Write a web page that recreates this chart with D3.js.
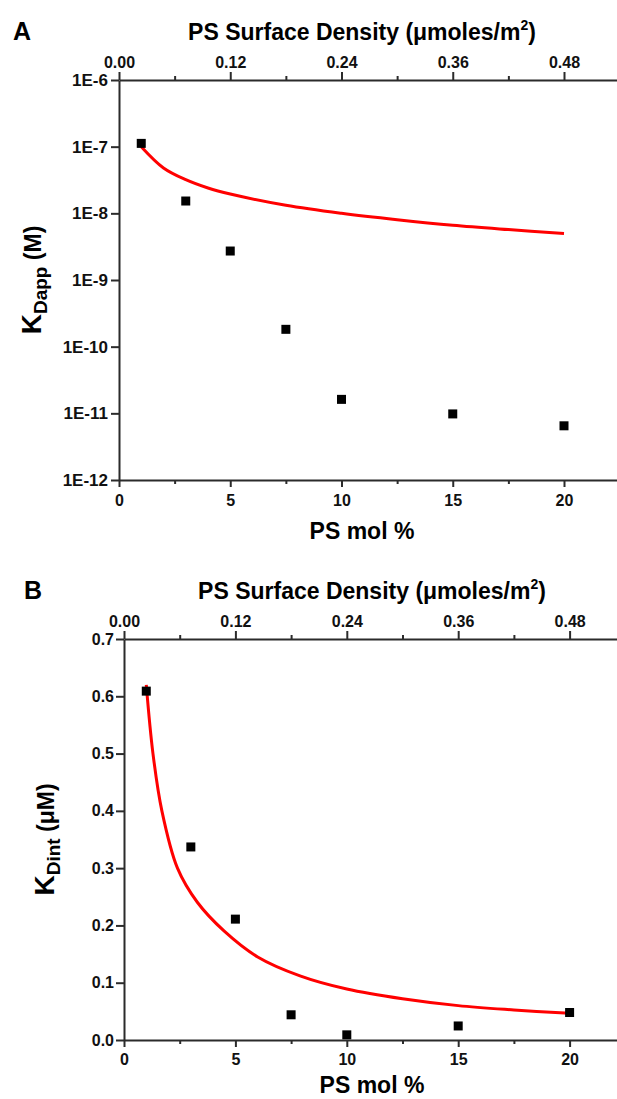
<!DOCTYPE html>
<html lang="en">
<head>
<meta charset="utf-8">
<script src="https://d3js.org/d3.v7.min.js"></script>
<style>
  body { margin: 0; background: #fff; }
  svg { display: block; font-family: "Liberation Sans", Arial, sans-serif; font-weight: bold; }
  .axis path, .axis line { stroke: #2b2b2b; stroke-width: 2; }
  .axis text { fill: #111; font-weight: bold; }
</style>
</head>
<body>
<svg id="chart" width="617" height="1099"></svg>
<script>
// measured points (PS mol %)
const molPct = [1, 3, 5, 7.5, 10, 15, 20];
const kDapp = [1.12e-7, 1.53e-8, 2.72e-9, 1.82e-10, 1.62e-11, 9.8e-12, 6.5e-12];   // M
const kDint = [0.609, 0.337, 0.211, 0.044, 0.009, 0.0245, 0.048];                  // uM

// fitted red curves
const fitAx = [1, 2, 3, 4, 5, 7.5, 10, 12.5, 15, 17.5, 20];
const fitAy = [1.0e-7, 4.8e-8, 3.2e-8, 2.4e-8, 1.95e-8, 1.32e-8, 1.0e-8, 8.0e-9, 6.6e-9, 5.7e-9, 5.0e-9];
const fitBx = [1, 1.3, 1.7, 2.4, 3.3, 4.5, 6, 7.9, 10, 12.5, 15, 17.5, 20];
const fitBy = [0.62, 0.50, 0.40, 0.30, 0.24, 0.19, 0.145, 0.112, 0.089, 0.072, 0.060, 0.0525, 0.0465];

// tick labels
const molTicks = [0, 5, 10, 15, 20];
const molMinor = [2.5, 7.5, 12.5, 17.5];
const densTicks = [0, 0.12, 0.24, 0.36, 0.48];
const densMinor = [0.06, 0.18, 0.30, 0.42];
const logTicks = [1e-6, 1e-7, 1e-8, 1e-9, 1e-10, 1e-11, 1e-12];
const linTicks = [0, 0.1, 0.2, 0.3, 0.4, 0.5, 0.6, 0.7];

const svg = d3.select("#chart");

function drawPanel(p) {
  const g = svg.append("g");
  const x = d3.scaleLinear().domain([0, 22.5]).range([p.left, p.left + p.unit * 22.5]);
  const xTop = d3.scaleLinear().domain([0, 0.54]).range(x.range());
  const y = p.y;

  // bottom axis
  g.append("g").attr("class", "axis")
    .attr("transform", `translate(0,${p.bottom})`)
    .call(d3.axisBottom(x).tickValues(molTicks).tickSizeInner(7).tickSizeOuter(0).tickPadding(p.botPad).tickFormat(d3.format("d")))
    .selectAll("text").attr("font-size", 16);
  g.append("g").attr("class", "axis")
    .attr("transform", `translate(0,${p.bottom})`)
    .call(d3.axisBottom(x).tickValues(molMinor).tickSize(4).tickFormat(""))
    .select(".domain").remove();

  // top axis
  g.append("g").attr("class", "axis")
    .attr("transform", `translate(0,${p.top})`)
    .call(d3.axisTop(xTop).tickValues(densTicks).tickSizeInner(8).tickSizeOuter(0).tickPadding(4).tickFormat(d3.format(".2f")))
    .selectAll("text").attr("font-size", 16);
  g.append("g").attr("class", "axis")
    .attr("transform", `translate(0,${p.top})`)
    .call(d3.axisTop(xTop).tickValues(densMinor).tickSize(4).tickFormat(""))
    .select(".domain").remove();

  // left axis
  g.append("g").attr("class", "axis")
    .attr("transform", `translate(${p.left},0)`)
    .call(d3.axisLeft(y).tickValues(p.yTicks).tickSizeInner(8).tickSizeOuter(0).tickPadding(p.leftPad).tickFormat(p.yFormat))
    .selectAll("text").attr("font-size", p.yFont);

  // fitted curve
  const fit = p.fitX.map((v, i) => [v, p.fitY[i]]);
  g.append("path")
    .datum(fit)
    .attr("fill", "none")
    .attr("stroke", "#ff0000")
    .attr("stroke-width", 3)
    .attr("d", d3.line().x(d => x(d[0])).y(d => y(d[1])).curve(d3.curveCatmullRom.alpha(0.5)));

  // data squares
  g.selectAll(".pt")
    .data(molPct.map((v, i) => [v, p.yVals[i]]))
    .enter().append("rect")
    .attr("x", d => x(d[0]) - 4.5)
    .attr("y", d => y(d[1]) - 4.5)
    .attr("width", 9)
    .attr("height", 9)
    .attr("fill", "#000");

  // panel letter
  g.append("text").attr("x", p.letterX).attr("y", p.top - 40)
    .attr("font-size", 25).text(p.letter);

  // top title
  const t = g.append("text").attr("x", p.titleX).attr("y", p.top - 40)
    .attr("text-anchor", "middle").attr("font-size", 23);
  t.append("tspan").text("PS Surface Density (\u03bcmoles/m");
  t.append("tspan").attr("font-size", 14).attr("dy", -10).text("2");
  t.append("tspan").attr("dy", 10).text(")");

  // bottom title
  g.append("text").attr("x", p.titleX).attr("y", p.bottom + p.botTitle)
    .attr("text-anchor", "middle").attr("font-size", 23).text("PS mol %");

  // y title
  const yt = g.append("text")
    .attr("transform", `translate(${p.yTitleX},${(p.top + p.bottom) / 2}) rotate(-90)`)
    .attr("text-anchor", "middle");
  yt.append("tspan").attr("font-size", 28).text("K");
  yt.append("tspan").attr("font-size", 19).attr("dy", 6).text(p.sub);
  yt.append("tspan").attr("font-size", 23).attr("dy", -6).text(p.unitLabel);
}

drawPanel({
  letter: "A", letterX: 13, titleX: 362,
  left: 119, unit: 22.25, top: 80, bottom: 480,
  y: d3.scaleLog().domain([1e-12, 1e-6]).range([480, 80]),
  yTicks: logTicks, yFormat: d => "1E" + Math.round(Math.log10(d)), yFont: 17,
  yVals: kDapp, fitX: fitAx, fitY: fitAy,
  botPad: 8, leftPad: 3, yTitleX: 41, botTitle: 59,
  sub: "Dapp", unitLabel: " (M)"
});

drawPanel({
  letter: "B", letterX: 24, titleX: 372,
  left: 124, unit: 22.28, top: 639, bottom: 1040,
  y: d3.scaleLinear().domain([0, 0.7]).range([1040, 639]),
  yTicks: linTicks, yFormat: d3.format(".1f"), yFont: 16,
  yVals: kDint, fitX: fitBx, fitY: fitBy,
  botPad: 7, leftPad: 2, yTitleX: 54, botTitle: 53,
  sub: "Dint", unitLabel: " (\u03bcM)"
});
</script>
</body>
</html>
